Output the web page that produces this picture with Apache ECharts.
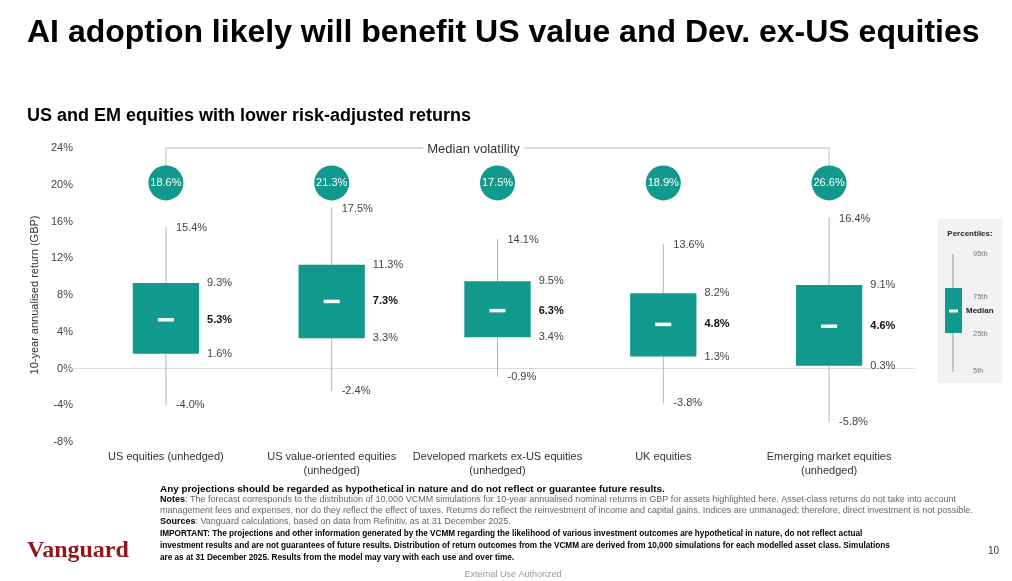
<!DOCTYPE html>
<html>
<head>
<meta charset="utf-8">
<script src="https://cdn.jsdelivr.net/npm/echarts@6/dist/echarts.min.js"></script>
<style>
  html, body { margin: 0; padding: 0; background: #fff; }
  #chart { width: 1012px; height: 581px; }
</style>
</head>
<body>
<div id="chart"></div>
<script>
// box plot data, percentiles of 10-year annualised return (GBP)
const categories = [
  'US equities (unhedged)',
  'US value-oriented equities\n(unhedged)',
  'Developed markets ex-US equities\n(unhedged)',
  'UK equities',
  'Emerging market equities\n(unhedged)'
];
const p95 = [15.4, 17.5, 14.1, 13.6, 16.4];
const p75 = [9.3, 11.3, 9.5, 8.2, 9.1];
const median = [5.3, 7.3, 6.3, 4.8, 4.6];
const p25 = [1.6, 3.3, 3.4, 1.3, 0.3];
const p5 = [-4.0, -2.4, -0.9, -3.8, -5.8];
const volatility = [18.6, 21.3, 17.5, 18.9, 26.6];

const TEAL = '#12998d';
const FONT = '"Liberation Sans", Arial, sans-serif';
const CIRCLE_ROW = 20.2;   // where the volatility bubbles sit on the y scale
const BRACKET_ROW = 24;

const pct = v => v.toFixed(1) + '%';

const boxData = categories.map((c, i) => [i, p5[i], p25[i], median[i], p75[i], p95[i]]);

function renderBox(params, api) {
  const i = api.value(0);
  const top = api.coord([i, api.value(5)]);
  const q3 = api.coord([i, api.value(4)]);
  const med = api.coord([i, api.value(3)]);
  const q1 = api.coord([i, api.value(2)]);
  const bot = api.coord([i, api.value(1)]);
  const bw = api.size([1, 0])[0] * 0.4;
  const x = top[0];
  const lbl = (txt, px, py, bold) => ({
    type: 'text',
    style: {
      text: txt, x: px, y: py, fill: bold ? '#111' : '#444',
      font: (bold ? 'bold ' : '') + '11px ' + FONT,
      align: 'left', verticalAlign: 'middle'
    }
  });
  return {
    type: 'group',
    children: [
      { type: 'line', shape: { x1: x, y1: top[1], x2: x, y2: bot[1] },
        style: { stroke: '#b3b3b3', lineWidth: 1 } },
      { type: 'rect', shape: { x: x - bw / 2, y: q3[1], width: bw, height: q1[1] - q3[1] },
        style: { fill: TEAL } },
      { type: 'rect', shape: { x: x - 8, y: med[1] - 1.75, width: 16, height: 3.5 },
        style: { fill: '#fff' } },
      lbl(pct(api.value(5)), x + 10, top[1] + 1),
      lbl(pct(api.value(4)), x + bw / 2 + 8, q3[1]),
      lbl(pct(api.value(3)), x + bw / 2 + 8, med[1], true),
      lbl(pct(api.value(2)), x + bw / 2 + 8, q1[1]),
      lbl(pct(api.value(1)), x + 10, bot[1])
    ]
  };
}

function renderZero(params, api) {
  const p = api.coord([0, 0]);
  const cs = params.coordSys;
  return {
    type: 'line',
    shape: { x1: cs.x - 17, y1: p[1], x2: cs.x + cs.width + 3, y2: p[1] },
    style: { stroke: '#dcdcdc', lineWidth: 1 }
  };
}

function renderBracket(params, api) {
  const a = api.coord([0, BRACKET_ROW]);
  const b = api.coord([categories.length - 1, BRACKET_ROW]);
  const drop = api.coord([0, CIRCLE_ROW])[1] - 17;
  const mid = (a[0] + b[0]) / 2 - 24;
  return {
    type: 'group',
    children: [
      { type: 'polyline',
        shape: { points: [[a[0], drop], [a[0], a[1]], [b[0], b[1]], [b[0], drop]] },
        style: { stroke: '#bdbdbd', lineWidth: 1, fill: null } },
      { type: 'text',
        style: { text: 'Median volatility', x: mid, y: a[1] + 1, align: 'center', verticalAlign: 'middle',
          font: '13px ' + FONT, fill: '#333', backgroundColor: '#fff', padding: [0, 4] } }
    ]
  };
}

const noteLines = [
  [489, '{h|Any projections should be regarded as hypothetical in nature and do not reflect or guarantee future results.}'],
  [500, '{b|Notes}{n|: The forecast corresponds to the distribution of 10,000 VCMM simulations for 10-year annualised nominal returns in GBP for assets highlighted here. Asset-class returns do not take into account}'],
  [511, '{n|management fees and expenses, nor do they reflect the effect of taxes. Returns do reflect the reinvestment of income and capital gains. Indices are unmanaged; therefore, direct investment is not possible.}'],
  [522, '{b|Sources}{n|: Vanguard calculations, based on data from Refinitiv, as at 31 December 2025.}'],
  [534, '{i|IMPORTANT: The projections and other information generated by the VCMM regarding the likelihood of various investment outcomes are hypothetical in nature, do not reflect actual}'],
  [546, '{i|investment results and are not guarantees of future results. Distribution of return outcomes from the VCMM are derived from 10,000 simulations for each modelled asset class. Simulations}'],
  [558, '{i|are as at 31 December 2025. Results from the model may vary with each use and over time.}']
];

const graphics = [
  { type: 'text', left: 27, top: 17,
    style: { text: 'AI adoption likely will benefit US value and Dev. ex-US equities',
      font: 'bold 32px ' + FONT, fill: '#000' } },
  { type: 'text', left: 27, top: 107,
    style: { text: 'US and EM equities with lower risk-adjusted returns',
      font: 'bold 18px ' + FONT, fill: '#000' } },
  // legend panel
  { type: 'rect', shape: { x: 938, y: 219, width: 65, height: 164 }, style: { fill: '#f2f2f2' } },
  { type: 'text', style: { text: 'Percentiles:', x: 970, y: 234, align: 'center', verticalAlign: 'middle',
      font: 'bold 8px ' + FONT, fill: '#222' } },
  { type: 'line', shape: { x1: 953, y1: 254, x2: 953, y2: 372 }, style: { stroke: '#999', lineWidth: 1 } },
  { type: 'rect', shape: { x: 945, y: 288, width: 17, height: 45 }, style: { fill: TEAL } },
  { type: 'rect', shape: { x: 949, y: 309.5, width: 9, height: 3 }, style: { fill: '#fff' } },
  { type: 'text', style: { text: '95th', x: 973, y: 254, verticalAlign: 'middle', font: '7.5px ' + FONT, fill: '#777' } },
  { type: 'text', style: { text: '75th', x: 973, y: 297, verticalAlign: 'middle', font: '7.5px ' + FONT, fill: '#777' } },
  { type: 'text', style: { text: 'Median', x: 966, y: 311, verticalAlign: 'middle', font: 'bold 8px ' + FONT, fill: '#222' } },
  { type: 'text', style: { text: '25th', x: 973, y: 334, verticalAlign: 'middle', font: '7.5px ' + FONT, fill: '#777' } },
  { type: 'text', style: { text: '5th', x: 973, y: 371, verticalAlign: 'middle', font: '7.5px ' + FONT, fill: '#777' } },
  // footer
  { type: 'text', style: { text: 'Vanguard', x: 27, y: 551, verticalAlign: 'middle',
      font: 'bold 24px "Liberation Serif", "DejaVu Serif", serif', fill: '#96151d' } },
  { type: 'text', style: { text: '10', x: 999, y: 551, align: 'right', verticalAlign: 'middle', font: '10px ' + FONT, fill: '#333' } },
  { type: 'text', style: { text: 'External Use Authorized', x: 513, y: 575, align: 'center', verticalAlign: 'middle',
      font: '9px ' + FONT, fill: '#999' } }
];

noteLines.forEach(([y, t]) => {
  graphics.push({
    type: 'text',
    style: {
      text: t, x: 160, y: y, verticalAlign: 'middle',
      rich: {
        h: { fontFamily: FONT, fontSize: 9.9, fontWeight: 'bold', fill: '#000' },
        b: { fontFamily: FONT, fontSize: 9, fontWeight: 'bold', fill: '#000' },
        n: { fontFamily: FONT, fontSize: 9, fill: '#666' },
        i: { fontFamily: FONT, fontSize: 8.2, fontWeight: 'bold', fill: '#000' }
      }
    }
  });
});

const chart = echarts.init(document.getElementById('chart'), null, { renderer: 'canvas' });
chart.setOption({
  animation: false,
  backgroundColor: '#fff',
  textStyle: { fontFamily: FONT },
  grid: { left: 83, right: 100, top: 148, bottom: 139 },
  xAxis: {
    type: 'category',
    data: categories,
    axisLine: { show: false, onZero: false },
    axisTick: { show: false },
    axisLabel: { color: '#333', fontSize: 11, lineHeight: 14, margin: 8, interval: 0 }
  },
  yAxis: {
    type: 'value',
    min: -8, max: 24, interval: 4,
    axisLabel: { formatter: '{value}%', color: '#444', fontSize: 11, margin: 10 },
    axisLine: { show: false },
    axisTick: { show: false },
    splitLine: { show: false },
    name: '10-year annualised return (GBP)',
    nameLocation: 'middle',
    nameGap: 43,
    nameTextStyle: { color: '#333', fontSize: 11 }
  },
  series: [
    { type: 'custom', name: 'zero', renderItem: renderZero, data: [[0, 0]], z: 1, silent: true },
    { type: 'custom', name: 'bracket', renderItem: renderBracket, data: [[0, BRACKET_ROW]], z: 1, silent: true },
    {
      type: 'custom', name: 'returns', renderItem: renderBox, z: 2,
      encode: { x: 0, y: [1, 2, 3, 4, 5] },
      data: boxData
    },
    {
      type: 'scatter', name: 'volatility', z: 3,
      symbolSize: 35,
      itemStyle: { color: TEAL, opacity: 1 },
      data: volatility.map((v, i) => [i, CIRCLE_ROW, v]),
      label: { show: true, position: 'inside', color: '#fff', fontSize: 11,
        formatter: p => pct(p.data[2]) }
    }
  ],
  graphic: graphics
});
</script>
</body>
</html>
